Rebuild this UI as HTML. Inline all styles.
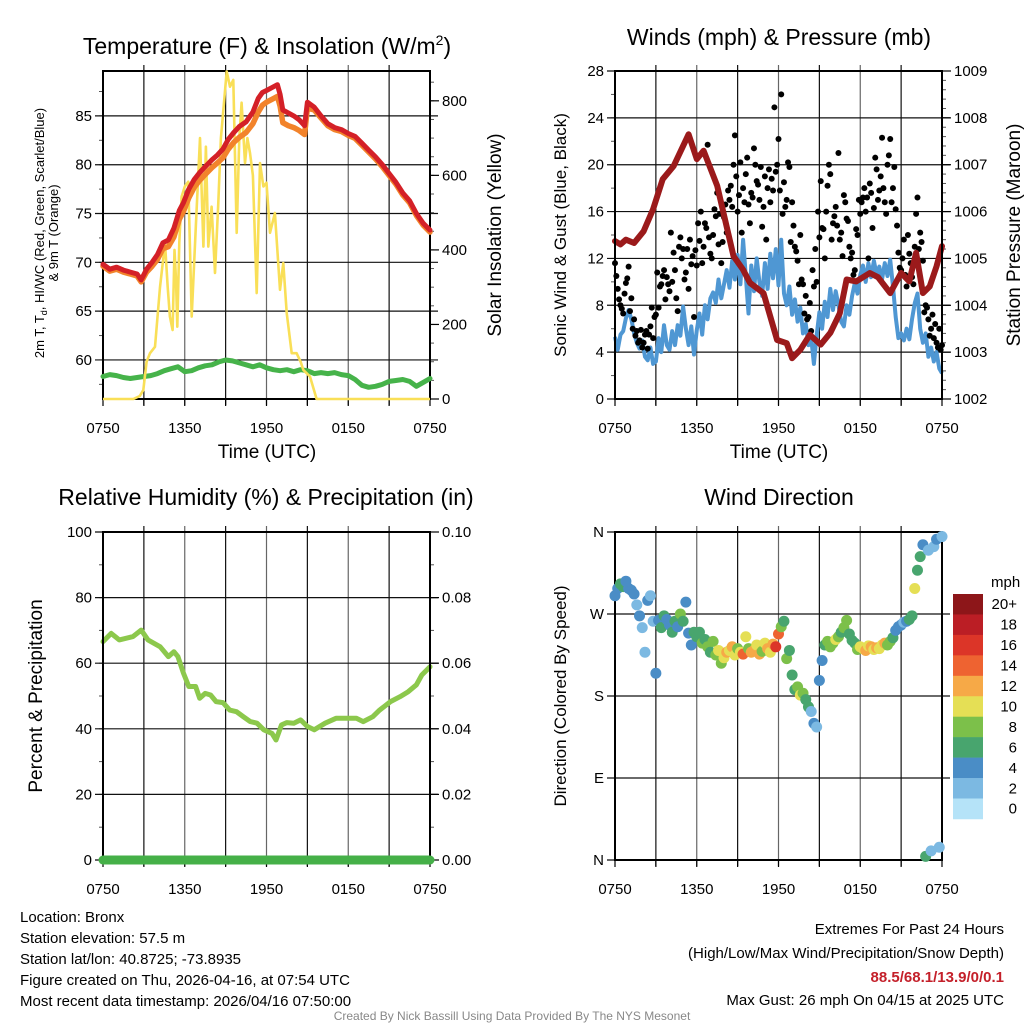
<!DOCTYPE html>
<html><head><meta charset="utf-8"><title>Bronx Mesonet Meteogram</title>
<style>
html,body{margin:0;padding:0;background:#fff;}
svg{display:block;font-family:"Liberation Sans",Arial,sans-serif;}
</style></head>
<body>
<svg id="chart" xmlns="http://www.w3.org/2000/svg" width="1024" height="1024" viewBox="0 0 1024 1024">
<rect x="0" y="0" width="1024" height="1024" fill="#fff"/>
<g id="layer"></g>
<text x="267" y="54" font-size="23" text-anchor="middle">Temperature (F) &amp; Insolation (W/m<tspan font-size="14" dy="-9">2</tspan><tspan dy="9">)</tspan></text>
<text x="779" y="45" font-size="23" text-anchor="middle">Winds (mph) &amp; Pressure (mb)</text>
<text x="266" y="505" font-size="23" text-anchor="middle">Relative Humidity (%) &amp; Precipitation (in)</text>
<text x="779" y="505" font-size="23" text-anchor="middle">Wind Direction</text>

<text transform="translate(44,233) rotate(-90)" font-size="13" text-anchor="middle">2m T, T<tspan font-size="9" dy="3">d</tspan><tspan dy="-3">, HI/WC (Red, Green, Scarlet/Blue)</tspan></text>
<text transform="translate(58,233) rotate(-90)" font-size="13" text-anchor="middle">&amp; 9m T (Orange)</text>
<text transform="translate(501,235) rotate(-90)" font-size="19" text-anchor="middle">Solar Insolation (Yellow)</text>
<text transform="translate(566,235) rotate(-90)" font-size="17" text-anchor="middle">Sonic Wind &amp; Gust (Blue, Black)</text>
<text transform="translate(1020,235) rotate(-90)" font-size="19" text-anchor="middle">Station Pressure (Maroon)</text>
<text transform="translate(42,696) rotate(-90)" font-size="19" text-anchor="middle">Percent &amp; Precipitation</text>
<text transform="translate(566,696) rotate(-90)" font-size="17" text-anchor="middle">Direction (Colored By Speed)</text>
<text x="267" y="458" font-size="19" text-anchor="middle">Time (UTC)</text>
<text x="779" y="458" font-size="19" text-anchor="middle">Time (UTC)</text>

<g font-size="15">
<text x="20" y="922">Location: Bronx</text>
<text x="20" y="943">Station elevation: 57.5 m</text>
<text x="20" y="964">Station lat/lon: 40.8725; -73.8935</text>
<text x="20" y="985">Figure created on Thu, 2026-04-16, at 07:54 UTC</text>
<text x="20" y="1006">Most recent data timestamp: 2026/04/16 07:50:00</text>
</g>
<g font-size="15" text-anchor="end">
<text x="1004" y="934">Extremes For Past 24 Hours</text>
<text x="1004" y="958">(High/Low/Max Wind/Precipitation/Snow Depth)</text>
<text x="1004" y="982" fill="#c4202a" font-weight="bold">88.5/68.1/13.9/0/0.1</text>
<text x="1004" y="1005">Max Gust: 26 mph On 04/15 at 2025 UTC</text>
</g>
<text x="512" y="1020" font-size="12" fill="#888" text-anchor="middle">Created By Nick Bassill Using Data Provided By The NYS Mesonet</text>
</svg>
<script>
var xTickLabels = ["0750","1350","1950","0150","0750"];
var tempHours = [0,0.5,1,1.5,2,2.5,2.8,3.2,3.6,4.0,4.4,4.8,5.2,5.6,5.9,6.3,6.7,7.1,7.5,8.0,8.4,8.8,9.2,9.6,10.0,10.5,11.0,11.4,11.7,12.0,12.4,12.8,13.0,13.2,13.6,14.0,14.4,14.8,15.0,15.5,16.0,16.5,17.0,17.5,18.0,18.5,19.0,19.5,20.0,20.5,21.0,21.5,22.0,22.5,23.0,23.5,24];
var temp2m = [69.8,69.3,69.5,69.2,69.0,68.8,68.2,69.3,70.0,70.8,72.0,72.3,73.5,75.3,76.1,77.5,78.5,79.2,79.8,80.5,81.0,81.6,82.6,83.3,83.9,84.4,85.4,86.8,87.4,87.6,87.9,88.2,87.2,85.6,85.3,85.0,84.6,84.0,86.4,85.9,85.0,84.2,83.8,83.6,83.2,82.9,82.2,81.5,80.8,80.0,79.1,78.2,77.1,76.3,75.0,74.0,73.3];
var temp9m = [69.6,69.1,69.3,69.0,68.8,68.6,68.0,69.0,69.6,70.3,71.4,71.6,72.6,74.4,75.2,76.6,77.7,78.4,79.0,79.7,80.2,80.7,81.6,82.3,82.8,83.3,84.2,85.4,86.1,86.4,86.7,87.0,86.0,84.3,84.0,83.8,83.5,83.1,85.8,85.6,84.8,84.0,83.6,83.4,83.0,82.7,82.0,81.3,80.6,79.8,78.9,78.0,76.9,76.1,74.8,73.8,73.1];
var dewpoint = [58.3,58.5,58.4,58.2,58.1,58.2,58.3,58.4,58.6,58.9,59.1,59.3,58.8,58.9,59.2,59.4,59.5,59.8,60.0,59.9,59.7,59.5,59.3,59.5,59.2,59.0,58.9,59.0,58.8,59.0,58.9,58.6,58.7,58.6,58.7,58.5,58.4,58.0,57.4,57.2,57.3,57.5,57.8,57.9,58.0,57.8,57.3,57.7,58.1];
var solarHours = [0,2.23,2.7,2.96,3.2,3.45,3.82,4.18,4.55,4.75,4.91,5.11,5.25,5.36,5.45,5.6,5.77,6.0,6.26,6.51,6.8,7.12,7.37,7.55,7.73,7.97,8.22,8.46,8.65,9.08,9.32,9.56,9.81,10.0,10.17,10.42,10.6,10.79,11.0,11.28,11.52,11.77,12.0,12.26,12.62,12.99,13.23,13.48,13.85,14.21,14.5,14.7,15.19,15.68,24];
var solarValues = [0,0,8,24,100,123,140,300,418,300,221,185,400,320,194,420,543,570,583,221,450,700,409,677,409,516,338,526,700,879,838,856,446,700,795,633,700,660,600,284,633,570,580,446,499,293,365,231,123,123,100,78,60,0,0];
var tempTicks = [60,65,70,75,80,85];
var solarTicks = [0,200,400,600,800];
var windSpeed = [5.3,4.2,5.5,5.8,6.9,7.6,6.8,5.6,4.8,4.3,5.0,3.6,3.3,4.4,3.0,3.2,5.2,4.0,6.3,4.6,4.2,5.8,4.6,6.3,5.4,7.9,6.0,4.6,6.2,3.8,5.9,7.3,5.5,8.0,6.8,8.6,9.1,8.2,10.2,8.6,9.8,11.0,9.5,11.8,10.2,12.3,9.8,13.6,10.5,7.3,11.4,9.2,12.0,10.0,8.8,11.6,9.4,12.4,10.3,12.8,9.7,13.6,9.0,8.0,9.6,7.2,8.5,6.6,7.8,5.6,6.4,4.6,5.2,3.0,5.4,7.4,6.0,8.3,7.0,9.4,7.6,9.2,8.0,6.6,6.2,8.0,7.2,8.8,9.9,9.0,10.6,11.4,10.0,11.6,10.4,11.8,10.6,11.3,10.2,11.6,10.5,11.9,9.6,7.0,5.2,5.6,5.0,6.0,5.1,6.8,8.2,9.0,6.0,4.8,5.6,3.6,4.4,3.2,4.0,2.6,2.2];
var gustA = [11.6,9.4,8.0,7.3,9.9,11.3, 8.6,6.8,5.8,5.0,4.4, 5.5,4.3,6.2,5.2,7.2, 7.8,9.8,11.0,10.4,9.2, 10.0,11.0,7.5,13.8,12.8, 10.8,9.4,11.5,7.0,11.4, 13.5,11.6,15.0,21.7,12.4, 14.0,15.6,13.2,11.6,15.5, 14.2,17.0,16.4,22.5,16.0, 20.2,18.0,19.2,16.6,17.6, 21.4,18.6,17.0,14.7,19.0, 18.0,16.8,17.8,19.4,22.2, 26.0,18.5,17.0,19.8,16.8, 13.0,11.8,14.0,9.8,8.8, 7.0,5.8,9.6,10.0,13.8, 14.6,12.0,18.2,19.2,15.0, 16.4,21.0,14.2,17.4,15.4, 13.0,12.5,11.0,14.0,15.8, 17.2,16.0,12.0,17.6,16.3, 19.6,17.8,22.3,16.8,20.0, 22.2,18.0,16.2,12.5,11.0, 13.6,9.6,12.4,10.4,13.0, 17.2,14.2,11.8,8.0,6.8, 6.0,5.2,4.8,6.0,4.6];
var gustB = [10.5,8.5,7.7,9.0,10.3, 7.5,6.0,5.4,4.8,5.9, 4.8,5.8,5.5,7.8,7.0, 10.8,9.6,10.5,8.5,9.8, 14.2,12.5,8.6,13.0,12.0, 10.2,12.8,13.6,12.2,12.7, 15.0,16.0,13.0,14.6,13.8, 12.0,16.2,17.6,15.8,13.4, 16.6,17.8,18.2,20.0,19.0, 17.4,14.2,16.8,20.6,15.0, 17.2,20.0,18.3,19.8,16.4, 13.6,19.6,18.8,24.9,20.0, 17.8,15.8,16.4,20.2,13.4, 14.8,12.6,9.8,10.2,7.3, 6.8,8.2,11.0,12.8,16.0, 18.6,14.5,16.0,20.0,13.6, 15.6,14.8,13.6,12.2,16.8, 15.2,12.0,10.6,14.5,17.0, 16.8,18.0,17.2,18.4,14.6, 20.6,17.0,19.0,18.0,15.8, 20.8,16.8,19.8,14.8,11.2, 12.0,10.6,14.0,11.6,9.8, 15.8,12.8,13.4,7.4,7.8, 5.4,7.2,6.4,4.4,4.2];
var pressureHours = [0,0.4,0.8,1.4,2.1,2.8,3.5,4.3,5.4,6.0,6.5,7.5,8.7,9.4,9.9,10.9,11.9,12.6,13.0,13.6,14.3,15.1,15.8,16.5,17.0,17.7,18.7,19.3,20.2,21.0,21.6,22.1,22.6,23.1,23.6,24];
var pressureValues = [1005.37,1005.3,1005.4,1005.33,1005.58,1006.05,1006.69,1006.97,1007.65,1007.12,1007.30,1006.55,1005.05,1004.76,1004.48,1004.26,1003.26,1003.19,1002.87,1003.05,1003.37,1003.16,1003.41,1003.83,1004.55,1004.51,1004.69,1004.60,1004.26,1004.69,1004.51,1005.12,1004.26,1004.40,1004.83,1005.26];
var windTicks = [0,4,8,12,16,20,24,28];
var pressureTicks = [1002,1003,1004,1005,1006,1007,1008,1009];
var rhHours = [0,0.6,1.2,2.2,2.8,3.3,4.2,4.8,5.2,5.5,5.9,6.3,6.8,7.1,7.5,7.9,8.3,8.8,9.3,9.8,10.3,10.8,11.3,11.8,12.4,12.7,13.1,13.5,14.0,14.5,15.0,15.5,16.3,17.1,18.6,19.1,19.8,20.3,21.1,21.8,22.4,23.0,23.4,24];
var rhValues = [66.6,69.1,67.1,68.1,70.1,67.1,65.0,62.0,63.5,62.0,57.0,52.9,52.9,49.3,50.8,50.3,48.3,48.0,45.7,45.2,43.7,42.2,41.7,39.7,38.6,36.6,41.2,41.9,41.7,42.7,40.7,39.7,41.7,43.2,43.2,42.2,43.7,45.7,48.3,49.8,51.3,53.4,56.4,58.9];
var precipValues = [0,0,0,0,0,0,0,0,0,0,0,0,0,0,0,0,0,0,0,0,0,0,0,0,0];
var rhTicks = [0,20,40,60,80,100];
var precipTicks = ["0.00","0.02","0.04","0.06","0.08","0.10"];
var dirValues = [290,298,303,300,306,298, 296,292,280,268,255, 228,285,290,262,205, 263,255,268,264,258, 250,262,256,270,262, 283,249,236,250,245, 250,238,242,234,228, 240,225,230,216,222, 228,230,234,225,232, 228,226,245,232,228, 230,236,226,229,238, 232,228,237,234,248, 256,262,221,230,203, 187,190,181,183,176, 168,163,150,146,197, 219,236,240,234,238, 242,245,250,255,263, 248,241,238,231,234, 232,230,235,234,231, 233,232,236,238,236, 240,244,252,256,258, 261,262,264,268,298, 318,333,346,4,340, 10,344,352,14,355];
var dirSpeeds = [4,5,7,6,5,4, 5,4,3,4,2, 3,4,2,3,4, 5,6,7,4,5, 6,7,5,8,7, 4,4,5,6,7, 7,8,7,9,6, 8,9,10,8,11, 12,10,13,11,9, 11,15,10,9,12, 13,11,12,9,10, 12,10,13,16,15, 9,7,8,6,7, 6,8,10,8,7, 6,3,4,2,4, 5,7,8,9,8, 10,8,7,8,9, 7,6,7,8,10, 11,12,10,13,11, 12,10,11,12,9, 8,6,4,5,4, 3,4,6,7,10, 7,6,4,6,2, 3,2,4,3,2];
var dirTickLabels = ["N","E","S","W","N"];
var speedBinLabels = ["0","2","4","6","8","10","12","14","16","18","20+"];
var speedColors = ["#b5e3f8","#7cb9e2","#4a8dc6","#48a56e","#7cc04a","#e5df55","#f6a947","#ee6331","#dc3528","#bb1e25","#8d1619"];

var NS="http://www.w3.org/2000/svg";
var layer=document.getElementById('layer');
function el(tag,attrs,parent){var e=document.createElementNS(NS,tag);for(var k in attrs)e.setAttribute(k,attrs[k]);(parent||layer).appendChild(e);return e;}
function linScale(d0,d1,r0,r1){return function(v){return r0+(v-d0)/(d1-d0)*(r1-r0);};}
function pathFrom(xs,ys,sx,sy){var d="";for(var i=0;i<xs.length;i++){d+=(i?"L":"M")+sx(xs[i]).toFixed(1)+","+sy(ys[i]).toFixed(1);}return d;}
function stepHours(n,step){var a=[];for(var i=0;i<n;i++)a.push(i*step);return a;}

function panel(p){
  var g=el('g',{});
  
  
  var sx=linScale(0,24,p.x0,p.x1);
  for(var h=3;h<24;h+=3){
    var gl=el('line',{x1:sx(h),x2:sx(h),y1:p.y0-6,y2:p.y1+6,stroke:(h%6==0)?'#666':'#111','stroke-width':1.2},g);
    
    
  }
  for(var h2=0;h2<=24;h2+=3){
    el('line',{x1:sx(h2),x2:sx(h2),y1:p.y1,y2:p.y1+7,stroke:'#000','stroke-width':1.2},g);
  }
  xTickLabels.forEach(function(t,i){
    var tx=el('text',{x:sx(i*6),y:p.y1+34,'font-size':15,'text-anchor':'middle'},g);
    tx.textContent=t;
    
    
  });
  return {g:g,sx:sx};
}
function leftAxis(p,g,sy,ticks,labels,minorStep,dmin,dmax,grid){
  for(var v=Math.ceil(dmin/minorStep)*minorStep;v<=dmax+1e-9;v+=minorStep){
    el('line',{x1:p.x0-4,x2:p.x0,y1:sy(v),y2:sy(v),stroke:'#555','stroke-width':1},g);
  }
  ticks.forEach(function(t,i){
    var y=sy(t);
    if(grid&&y>p.y0+1&&y<p.y1-1){
      var gl=el('line',{x1:p.x0-8,x2:p.x1+8,y1:y,y2:y,stroke:'#111','stroke-width':1.2},g);
      
      
    } else el('line',{x1:p.x0-8,x2:p.x0,y1:y,y2:y,stroke:'#000','stroke-width':1.2},g);
    var tx=el('text',{x:p.x0-11,y:y+5,'font-size':15,'text-anchor':'end'},g);
    tx.textContent=labels?labels[i]:String(t);
    
    
  });
}
function rightAxis(p,g,sy,ticks,labels,minorStep,dmin,dmax){
  for(var v=dmin;v<=dmax+1e-9;v+=minorStep){
    el('line',{x1:p.x1,x2:p.x1+4,y1:sy(v),y2:sy(v),stroke:'#555','stroke-width':1},g);
  }
  ticks.forEach(function(t,i){
    var y=sy(t);
    el('line',{x1:p.x1,x2:p.x1+9,y1:y,y2:y,stroke:'#000','stroke-width':1.2},g);
    var tx=el('text',{x:p.x1+12,y:y+5,'font-size':15,'text-anchor':'start'},g);
    tx.textContent=labels?labels[i]:String(t);
    
    
  });
}
function frame(p,g){
  var r=el('rect',{x:p.x0,y:p.y0,width:p.x1-p.x0,height:p.y1-p.y0,fill:'none',stroke:'#000','stroke-width':2},g);
  
  
}

(function(){
  var p={name:'temperature-panel',x0:103,x1:430,y0:71,y1:399};
  var P=panel(p), g=P.g, sx=P.sx;
  var sy=linScale(56,89.6,p.y1,p.y0);
  var sr=linScale(0,880,p.y1,p.y0);
  leftAxis(p,g,sy,tempTicks,null,2.5,57.5,87.5,true);
  rightAxis(p,g,sr,solarTicks,null,50,0,850);
  frame(p,g);
  var s;
  s=el('path',{d:pathFrom(stepHours(dewpoint.length,24/(dewpoint.length-1)),dewpoint,sx,sy),fill:'none',stroke:'#46b34a','stroke-width':5,'stroke-linejoin':'round','stroke-linecap':'round'},g);
  
  
  s=el('path',{d:pathFrom(solarHours,solarValues,sx,sr),fill:'none',stroke:'#f9df57','stroke-width':2.6,'stroke-linejoin':'round'},g);
  
  
  s=el('path',{d:pathFrom(tempHours,temp9m,sx,sy),fill:'none',stroke:'#f2832b','stroke-width':5.5,'stroke-linejoin':'round','stroke-linecap':'round'},g);
  
  
  s=el('path',{d:pathFrom(tempHours,temp2m,sx,sy),fill:'none',stroke:'#d42027','stroke-width':5,'stroke-linejoin':'round','stroke-linecap':'round'},g);
  
  
})();

(function(){
  var p={name:'winds-panel',x0:615,x1:942,y0:71,y1:399};
  var P=panel(p), g=P.g, sx=P.sx;
  var sy=linScale(0,28,p.y1,p.y0);
  var sp=linScale(1002,1009,p.y1,p.y0);
  leftAxis(p,g,sy,windTicks,null,2,0,28,true);
  rightAxis(p,g,sp,pressureTicks,null,0.2,1002,1009);
  var wh=stepHours(windSpeed.length,0.2);
  var s=el('path',{d:pathFrom(wh,windSpeed,sx,sy),fill:'none',stroke:'#4f97d3','stroke-width':4,'stroke-linejoin':'round'},g);
  
  
  var gg=el('g',{},g);
  
  
  gustA.forEach(function(v,i){
    var c=el('circle',{cx:sx(i*0.2),cy:sy(v),r:3,fill:'#000'},gg);
    
    
  });
  gustB.forEach(function(v,i){
    var c=el('circle',{cx:sx(i*0.2+0.1),cy:sy(v),r:3,fill:'#000'},gg);
    
    
  });
  s=el('path',{d:pathFrom(pressureHours,pressureValues,sx,sp),fill:'none',stroke:'#9b1a1b','stroke-width':6,'stroke-linejoin':'round','stroke-linecap':'round'},g);
  
  
  frame(p,g);
})();

(function(){
  var p={name:'humidity-panel',x0:103,x1:430,y0:532,y1:860};
  var P=panel(p), g=P.g, sx=P.sx;
  var sy=linScale(0,100,p.y1,p.y0);
  var sq=linScale(0,0.1,p.y1,p.y0);
  leftAxis(p,g,sy,rhTicks,null,10,0,100,true);
  rightAxis(p,g,sq,precipTicks.map(Number),precipTicks,0.01,0,0.1);
  var s=el('path',{d:pathFrom(rhHours,rhValues,sx,sy),fill:'none',stroke:'#8cc84c','stroke-width':5,'stroke-linejoin':'round','stroke-linecap':'round'},g);
  
  
  frame(p,g);
  s=el('path',{d:pathFrom(stepHours(precipValues.length,24/(precipValues.length-1)),precipValues,sx,sq),fill:'none',stroke:'#45b048','stroke-width':9,'stroke-linecap':'round'},g);
  
  
})();

(function(){
  var p={name:'wind-direction-panel',x0:615,x1:942,y0:532,y1:860};
  var P=panel(p), g=P.g, sx=P.sx;
  var sy=linScale(0,360,p.y1,p.y0);
  leftAxis(p,g,sy,[0,90,180,270,360],dirTickLabels,90,0,360,true);
  frame(p,g);
  var gg=el('g',{},g);
  
  
  dirValues.forEach(function(v,i){
    var b=Math.min(10,Math.floor(dirSpeeds[i]/2));
    var c=el('circle',{cx:sx(i*0.2),cy:sy(v),r:5.5,fill:speedColors[b]},gg);
    
    
  });
  var cb=el('g',{},layer);
  
  
  var bx=953,bw=30,by=594,bh=20.45;
  for(var k=0;k<speedColors.length;k++){
    var idx=speedColors.length-1-k;
    var r=el('rect',{x:bx,y:by+k*bh,width:bw,height:bh+0.3,fill:speedColors[idx]},cb);
    
    
    var t=el('text',{x:1017,y:by+k*bh+bh/2+5,'font-size':15,'text-anchor':'end'},cb);
    t.textContent=speedBinLabels[idx];
    
    
  }
  var u=el('text',{x:991,y:587,'font-size':15},cb);
  u.textContent='mph';
  
  
})();
</script>
</body></html>
